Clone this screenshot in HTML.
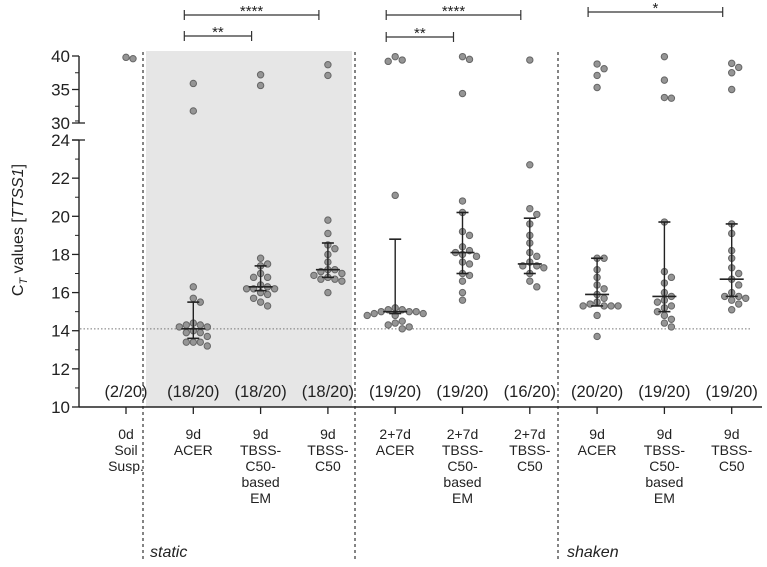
<!DOCTYPE html>
<html><head><meta charset="utf-8"><style>
body{margin:0;background:#fff}
svg{display:block;font-family:"Liberation Sans",Arial,sans-serif}
</style></head><body>
<svg id="chart" width="767" height="567">
<rect x="146" y="51" width="206" height="356" fill="#e6e6e6"/>
<g id="grid"></g>
<g id="marks"></g>
<g id="axes"></g>
</svg>
<script>
const categories=[["0d","Soil","Susp."],["9d","ACER"],["9d","TBSS-","C50-","based","EM"],["9d","TBSS-","C50"],["2+7d","ACER"],["2+7d","TBSS-","C50-","based","EM"],["2+7d","TBSS-","C50"],["9d","ACER"],["9d","TBSS-","C50-","based","EM"],["9d","TBSS-","C50"]];
const counts=["(2/20)","(18/20)","(18/20)","(18/20)","(19/20)","(19/20)","(16/20)","(20/20)","(19/20)","(19/20)"];
const values0=[39.6,39.8];
const values1=[35.9,31.8,16.3,15.7,15.5,14.3,14.3,14.4,14.2,14.0,13.9,13.9,13.7,13.4,13.4,13.4,13.2,14.2];
const values2=[37.2,35.6,17.8,17.5,17.4,17.0,16.8,16.8,16.4,16.3,16.2,16.2,16.2,16.0,15.9,15.7,15.5,15.3];
const values3=[38.7,37.1,19.8,19.1,18.5,18.3,18.0,17.6,17.2,17.2,17.1,17.0,16.9,16.8,16.7,16.7,16.6,16.0];
const values4=[39.9,39.4,39.2,21.1,15.2,15.1,15.1,15.0,15.0,15.0,14.9,14.9,14.8,14.8,14.5,14.4,14.3,14.2,14.1];
const values5=[39.9,39.5,34.4,20.8,20.2,19.2,19.0,18.4,18.2,18.1,18.0,17.9,17.6,17.5,17.0,16.9,16.0,15.6,16.6];
const values6=[39.4,22.7,20.4,20.1,19.6,19.0,18.6,18.1,17.9,17.6,17.4,17.4,17.3,17.0,16.6,16.3];
const values7=[38.8,38.1,37.1,35.3,17.8,17.8,17.2,16.8,16.4,16.2,15.9,15.7,15.5,15.4,15.3,15.3,15.3,15.3,14.8,13.7];
const values8=[39.9,36.4,33.7,33.8,19.7,17.1,16.8,16.5,16.0,15.8,15.6,15.3,15.5,15.2,15.0,14.8,14.6,14.4,14.2];
const values9=[38.9,38.3,37.5,35.0,19.6,19.1,18.2,17.8,17.3,17.0,16.7,16.4,16.0,15.8,15.8,15.7,15.6,15.4,15.1];
const medians=[null,14.1,16.3,17.2,15.0,18.1,17.5,15.9,15.8,16.7];
const q1=[null,13.6,16.1,16.8,14.9,17.0,17.0,15.3,15.0,15.8];
const q3=[null,15.5,17.4,18.6,18.8,20.2,19.9,17.8,19.7,19.6];
const lowerTicks=[10,12,14,16,18,20,22,24];
const upperTicks=[30,35,40];
const brackets=[[1,3,"****",15],[1,2,"**",36],[4,6,"****",15],[4,5,"**",37],[7,9,"*",12]];
const refLine=14.1;
const allValues=[values0,values1,values2,values3,values4,values5,values6,values7,values8,values9];

const NS="http://www.w3.org/2000/svg";
function el(tag,attrs,parent,text){const e=document.createElementNS(NS,tag);for(const k in attrs)e.setAttribute(k,attrs[k]);if(text!==undefined)e.textContent=text;parent.appendChild(e);return e;}
function y(v){ if(v>=27) return 123-(v-30)*6.7; return 407-(v-10)*19.07; }
function x(i){ return 126+i*67.3; }
const marks=document.getElementById('marks'),axes=document.getElementById('axes'),grid=document.getElementById('grid');

[143,355,558].forEach((xx,i)=>{const l=el('line',{x1:xx,x2:xx,y1:52,y2:562,stroke:'#333','stroke-dasharray':'3,3','stroke-width':1.2},grid);

});
const rl=el('line',{x1:80,x2:752,y1:y(refLine),y2:y(refLine),stroke:'#777','stroke-dasharray':'1.5,2','stroke-width':1},grid);



const r=3.2;
allValues.forEach((vals,gi)=>{
  const placed=[];
  const sorted=vals.slice().sort((a,b)=>b-a);
  sorted.forEach(v=>{
    const py=y(v);let dx=0;
    for(let k=0;k<40;k++){
      const cand=k===0?0:(k%2?1:-1)*Math.ceil(k/2)*(2*r+0.6)/2;
      const ok=placed.every(p=>Math.hypot(p[0]-cand,p[1]-py)>=2*r+0.4);
      if(ok){dx=cand;break;}
    }
    placed.push([dx,py]);
    const c=el('circle',{cx:x(gi)+dx,cy:py,r:r,fill:'#959595',stroke:'#666','stroke-width':1},marks);
    
    
  });
  if(medians[gi]!==null){
    const cx=x(gi);
    const w=el('line',{x1:cx,x2:cx,y1:y(q1[gi]),y2:y(q3[gi]),stroke:'#222','stroke-width':1.4},marks);
    
    
    [[q1[gi],6],[q3[gi],6],[medians[gi],12]].forEach(([v,hw])=>{
      const t=el('line',{x1:cx-hw,x2:cx+hw,y1:y(v),y2:y(v),stroke:'#222','stroke-width':1.6},marks);
      
      
    });
  }
  const ct=el('text',{x:x(gi),y:397,'font-size':16.5,'text-anchor':'middle',fill:'#222'},marks,counts[gi]);
  
  
  const lab=el('text',{x:x(gi),y:439,'font-size':14,'text-anchor':'middle',fill:'#222'},axes);
  
  
  categories[gi].forEach((s,li)=>el('tspan',{x:x(gi),dy:li?16:0},lab,s));
  el('line',{x1:x(gi),x2:x(gi),y1:407,y2:414,stroke:'#222','stroke-width':1.3},axes);
});

brackets.forEach(([a,b,s,by])=>{
  const x1=x(a)-9,x2=x(b)-9;
  const g=el('g',{},marks);
  
  
  el('line',{x1:x1,x2:x2,y1:by,y2:by,stroke:'#333','stroke-width':1.2},g);
  el('line',{x1:x1,x2:x1,y1:by-5,y2:by+5,stroke:'#333','stroke-width':1.2},g);
  el('line',{x1:x2,x2:x2,y1:by-5,y2:by+5,stroke:'#333','stroke-width':1.2},g);
  el('text',{x:(x1+x2)/2,y:by+1,'font-size':15,'text-anchor':'middle',fill:'#222'},g,s);
});

el('line',{x1:79,x2:79,y1:56,y2:123,stroke:'#222','stroke-width':1.4},axes);
el('line',{x1:79,x2:79,y1:140,y2:407,stroke:'#222','stroke-width':1.4},axes);
const xa=el('line',{x1:79,x2:762,y1:407,y2:407,stroke:'#222','stroke-width':1.4},axes);


lowerTicks.forEach(t=>{el('line',{x1:72,x2:79,y1:y(t),y2:y(t),stroke:'#222','stroke-width':1.3},axes);
  el('line',{x1:75,x2:79,y1:y(t+1),y2:y(t+1),stroke:'#222','stroke-width':1},axes);
  const tl=el('text',{x:70,y:y(t)+6,'font-size':17,'text-anchor':'end',fill:'#222'},axes,t);
  
  });
upperTicks.forEach(t=>{el('line',{x1:72,x2:t===30?85:79,y1:y(t),y2:y(t),stroke:'#222','stroke-width':1.3},axes);
  if(t<40) el('line',{x1:75,x2:79,y1:y(t+2.5),y2:y(t+2.5),stroke:'#222','stroke-width':1},axes);
  const tl=el('text',{x:70,y:y(t)+6,'font-size':17,'text-anchor':'end',fill:'#222'},axes,t);
  
  });
el('line',{x1:72,x2:85,y1:140,y2:140,stroke:'#222','stroke-width':1.3},axes);
const yt=el('text',{transform:'translate(23,230) rotate(-90)','font-size':16,'text-anchor':'middle',fill:'#222'},axes);


el('tspan',{},yt,'C');el('tspan',{'font-size':11,dy:4,'font-style':'italic'},yt,'T');el('tspan',{dy:-4},yt,' values [');el('tspan',{'font-style':'italic'},yt,'TTSS1');el('tspan',{},yt,']');
const st=el('text',{x:150,y:557,'font-size':16,'font-style':'italic',fill:'#222'},axes,'static');


const sh=el('text',{x:567,y:557,'font-size':16,'font-style':'italic',fill:'#222'},axes,'shaken');


</script>
</body></html>
